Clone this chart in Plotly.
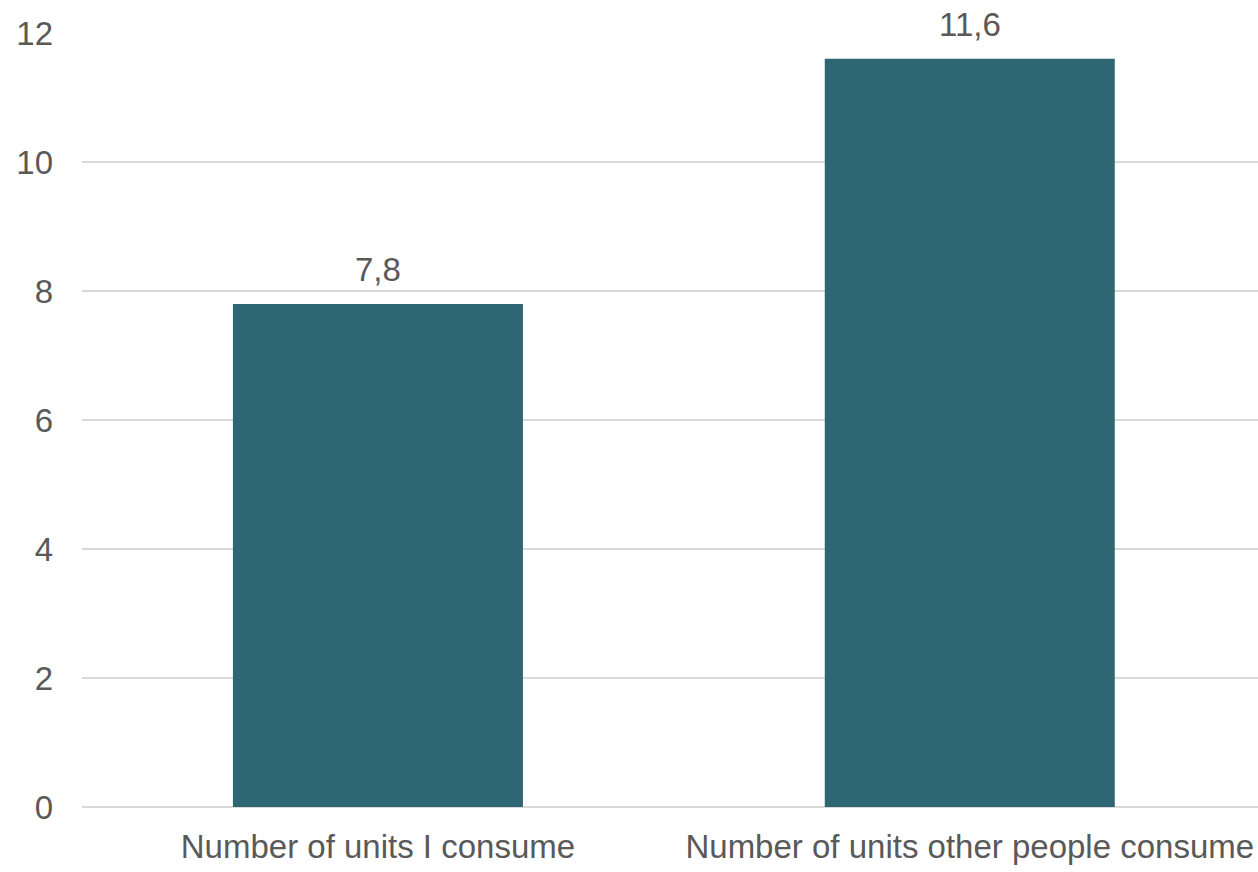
import plotly.graph_objects as go

categories = ["Number of units I consume", "Number of units other people consume"]
values = [7.8, 11.6]
value_labels = ["7,8", "11,6"]
y_ticks = [0, 2, 4, 6, 8, 10, 12]

bar_color = "#2E6673"
text_color = "#595959"
grid_color = "#D9D9D9"
font_family = "Liberation Sans, Arial, sans-serif"
fs = 33

fig = go.Figure()
fig.add_trace(go.Bar(
    x=categories,
    y=values,
    marker=dict(color=bar_color, line=dict(width=0)),
    width=0.49,
    hoverinfo="skip",
))

for c, v, t in zip(categories, values, value_labels):
    fig.add_annotation(
        x=c, y=v, text=t, showarrow=False,
        yanchor="bottom", yshift=14,
        font=dict(family=font_family, size=fs, color=text_color),
    )

fig.update_layout(
    width=1258, height=872,
    margin=dict(l=82, r=0, t=33, b=65),
    paper_bgcolor="white",
    plot_bgcolor="white",
    showlegend=False,
    font=dict(family=font_family, size=fs, color=text_color),
    xaxis=dict(
        range=[-0.5, 1.487],
        showgrid=False, zeroline=False, showline=False,
        ticks="", ticklabelstandoff=17,
        tickfont=dict(family=font_family, size=fs, color=text_color),
        fixedrange=True,
    ),
    yaxis=dict(
        range=[0, 12],
        tickvals=y_ticks,
        showgrid=True, gridcolor=grid_color, gridwidth=2,
        zeroline=True, zerolinecolor=grid_color, zerolinewidth=2,
        showline=False, ticks="", ticklabelstandoff=28,
        tickfont=dict(family=font_family, size=fs, color=text_color),
        fixedrange=True,
    ),
)

fig.write_html(
    "out.html",
    config={"displayModeBar": False},
    post_script="document.body.style.margin='0';document.body.style.overflow='hidden';",
)
